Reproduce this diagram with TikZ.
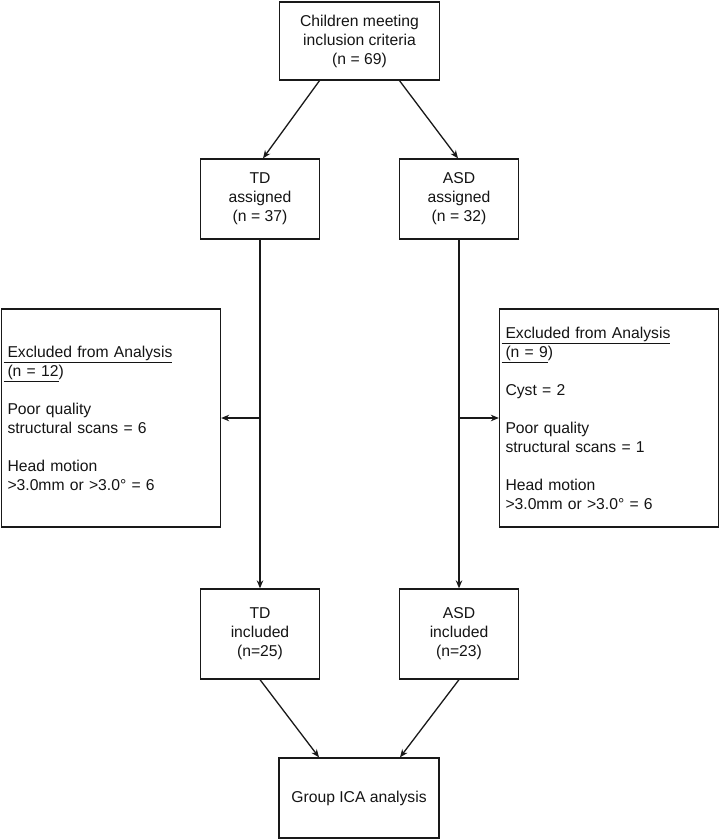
\documentclass[tikz,border=0pt]{standalone}
\usepackage{fontspec}
\setmainfont{Liberation Sans}
\usetikzlibrary{arrows.meta}
% underlined heading with a short stub of underline before the text
\newcommand{\stubline}[1]{\hspace*{-4pt}\underline{\hspace*{4pt}#1}}
\begin{document}
\begin{tikzpicture}[x=1pt,y=-1pt,
  every node/.style={font=\fontsize{15.7}{19}\selectfont, text=black!92},
  box/.style={draw=black!90, line width=1.3pt, align=center, inner sep=2pt},
  smallbox/.style={box, minimum width=119pt, minimum height=80pt},
  excl/.style={box, align=left, inner xsep=6pt, text width=207pt, minimum height=218pt},
  arr/.style={draw=black!90, line width=1.3pt, -{Stealth[length=8pt,width=6.5pt]}}]
\useasboundingbox (0,0) rectangle (720,840);

% boxes
\node[box, minimum width=160pt, minimum height=78pt] (top) at (359.5,41)
  {Children meeting\\inclusion criteria\\(n = 69)};
\node[smallbox] (tda) at (260,199) {TD\\assigned\\(n = 37)};
\node[smallbox] (asa) at (459,199) {ASD\\assigned\\(n = 32)};
\node[smallbox, minimum height=90pt] (tdi) at (260,634) {TD\\included\\(n=25)};
\node[smallbox, minimum height=90pt] (asi) at (459,634) {ASD\\included\\(n=23)};
\node[box, minimum width=160pt, minimum height=80pt] (ica) at (359,798) {Group ICA analysis};

\node[excl] (exl) at (111,418)
  {\stubline{Excluded from Analysis}\\
   \stubline{(n = 12})\\[19pt]
   Poor quality\\structural scans = 6\\[19pt]
   Head motion\\>3.0mm or >3.0° = 6};
\node[excl] (exr) at (609,418)
  {\stubline{Excluded from Analysis}\\
   \stubline{(n = 9})\\[19pt]
   Cyst = 2\\[19pt]
   Poor quality\\structural scans = 1\\[19pt]
   Head motion\\>3.0mm or >3.0° = 6};

% connectors
\draw[arr] ([xshift=-40pt]top.south) -- ([xshift=3pt]tda.north);
\draw[arr] ([xshift=40pt]top.south) -- ([xshift=-1pt]asa.north);
\draw[arr] (tda.south) -- (tdi.north);
\draw[arr] (asa.south) -- (asi.north);
\draw[arr] (tda.south |- exl.east) -- (exl.east);
\draw[arr] (asa.south |- exr.west) -- (exr.west);
\draw[arr] (tdi.south) -- ([xshift=-40pt]ica.north);
\draw[arr] (asi.south) -- ([xshift=41pt]ica.north);
\end{tikzpicture}
\end{document}
